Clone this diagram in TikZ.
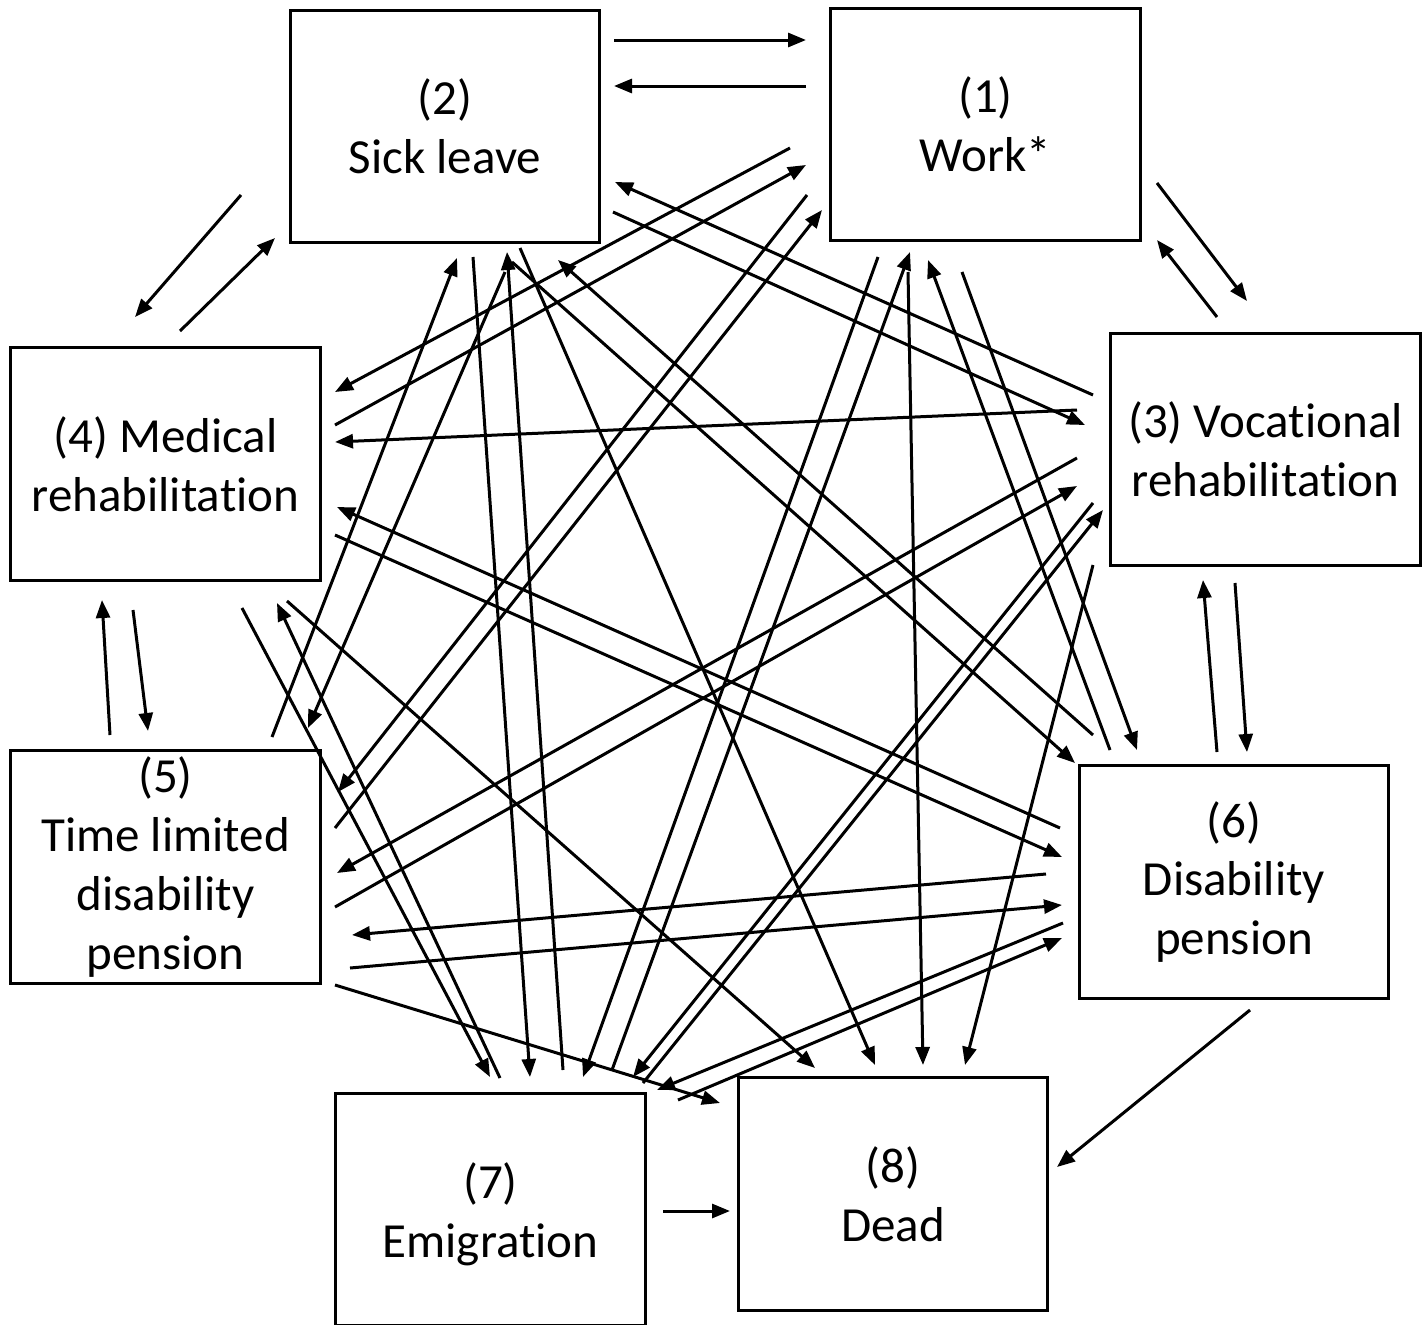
\documentclass[tikz,border=0pt]{standalone}
\usepackage{fontspec}
\setmainfont{Carlito}[Ligatures=NoCommon]
\usetikzlibrary{arrows.meta}
\begin{document}
\begin{tikzpicture}[x=0.02cm,y=-0.02cm,
  state/.style={draw,line width=0.06cm,rectangle,minimum width=6.2cm,minimum height=4.66cm,inner sep=0pt,align=center,font=\fontsize{27.9}{33.5}\selectfont},
  arr/.style={line width=0.06cm,-{Triangle[length=0.36cm,width=0.28cm]}}]
\useasboundingbox (0,0) rectangle (1427,1325);
\node[state] (sl) at (445,126.5) {(2)\\Sick leave};
\node[state] (work) at (985.5,124.5) {(1)\\Work*};
\node[state] (voc) at (1265.5,449.5) {(3) Vocational\\rehabilitation};
\node[state] (med) at (165.5,464) {(4) Medical\\rehabilitation};
\node[state] (tl) at (165.5,867) {(5)\\Time limited\\disability\\pension};
\node[state] (dis) at (1234,882) {(6)\\Disability\\pension};
\node[state] (emig) at (490.5,1209.5) {\\[-8pt](7)\\Emigration};
\node[state] (dead) at (893,1194) {(8)\\Dead};
\foreach \n/\xa/\ya/\xb/\yb in {
 1/614/40/806/40, 2/806/86/614/86, 3/241/195/135/317, 4/180/331/275/238,
 5/1157/183/1247/301, 6/1217/317/1157/240, 7/110/735/102/600, 8/133/610/148/731,
 9/1217/752/1203/580, 10/1235/583/1247/752, 11/663/1211/730/1211, 12/1250/1010/1057/1167,
 13/790/148/335/392, 14/335/425/806/165, 15/1077/410/335/442, 16/1060/828/337/507,
 17/335/535/1062/857, 18/287/601/815/1068, 19/242/608/490/1077, 20/500/1078/277/603,
 21/613/212/1085/425, 22/1093/395/615/182, 23/505/272/308/728, 24/272/737/457/258,
 25/807/195/338/792, 26/335/828/822/210, 27/1077/458/337/873, 28/335/907/1077/486,
 29/1046/874/352/935, 30/350/968/1062/905, 31/335/985/720/1103, 32/473/257/530/1077,
 33/563/1070/507/252, 34/520/248/875/1065, 35/512/262/1075/763, 36/1093/735/558/260,
 37/878/257/583/1077, 38/612/1070/910/252, 39/908/272/923/1065, 40/962/272/1137/750,
 41/1110/750/928/260, 42/1093/503/633/1077, 43/643/1083/1103/510, 44/1093/565/965/1065,
 45/1063/923/657/1090, 46/678/1100/1062/938}
{
 \coordinate (s\n) at (\xa,\ya);
 \coordinate (e\n) at (\xb,\yb);
 \draw[arr] (s\n) -- (e\n);
}
\end{tikzpicture}
\end{document}
